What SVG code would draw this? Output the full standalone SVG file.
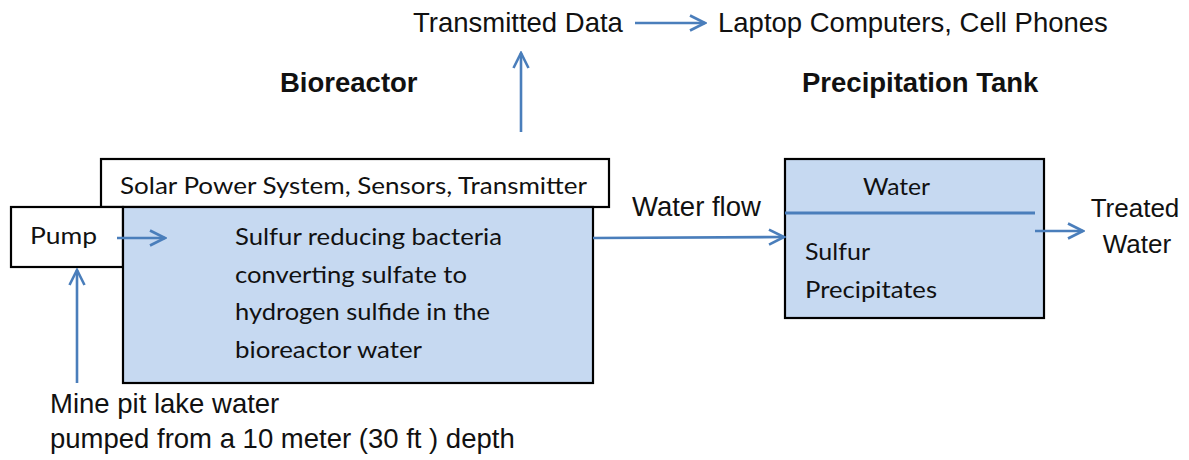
<svg xmlns="http://www.w3.org/2000/svg" width="1189" height="460" viewBox="0 0 1189 460">
<style>
.arial{font-family:"Liberation Sans",Arial,sans-serif;font-size:27.5px;fill:#111}
.bold{font-weight:bold}
.cal{font-family:Lato,"Noto Sans",sans-serif;font-size:24px;fill:#111}
.box{stroke:#000;stroke-width:2.2}
.white{fill:#fff}
.blue{fill:#c6d9f1}
.conn{stroke:#4a7ebb;stroke-width:2.6;fill:none}
</style>
<defs>
<marker id="arr" viewBox="0 0 18 18" refX="16" refY="9" markerWidth="18" markerHeight="18" markerUnits="userSpaceOnUse" orient="auto">
<path d="M1,1.5 L16,9 L1,16.5" fill="none" stroke="#4a7ebb" stroke-width="2.6"/>
</marker>
</defs>
<rect width="1189" height="460" fill="#fff"/>
<g id="titles">
<text class="arial bold" x="280" y="92">Bioreactor</text>
<text class="arial bold" x="802" y="92">Precipitation Tank</text>
</g>
<g id="transmitted-data"><text class="arial" x="413" y="32">Transmitted Data</text></g>
<g id="devices"><text class="arial" x="718" y="32">Laptop Computers, Cell Phones</text></g>
<g id="solar">
<rect class="box white" x="101" y="159" width="508" height="48"/>
<text class="cal" x="120" y="194" textLength="467" lengthAdjust="spacingAndGlyphs">Solar Power System, Sensors, Transmitter</text>
</g>
<g id="pump">
<rect class="box white" x="11" y="207" width="112" height="60"/>
<text class="cal" x="30" y="244" textLength="67" lengthAdjust="spacingAndGlyphs">Pump</text>
</g>
<g id="bioreactor">
<rect class="box blue" x="123" y="207" width="470" height="176"/>
<text class="cal" x="235" y="245" textLength="267" lengthAdjust="spacingAndGlyphs">Sulfur reducing bacteria</text>
<text class="cal" x="235" y="283" textLength="232" lengthAdjust="spacingAndGlyphs">converting sulfate to</text>
<text class="cal" x="235" y="320" textLength="255" lengthAdjust="spacingAndGlyphs">hydrogen sulfide in the</text>
<text class="cal" x="235" y="358" textLength="187" lengthAdjust="spacingAndGlyphs">bioreactor water</text>
</g>
<g id="precipitation-tank">
<rect class="box blue" x="785" y="159" width="259" height="159"/>
<line x1="785" y1="213" x2="1035" y2="213" stroke="#4a7ebb" stroke-width="3"/>
<text class="cal" x="863" y="195" textLength="67" lengthAdjust="spacingAndGlyphs">Water</text>
<text class="cal" x="805" y="260" textLength="65" lengthAdjust="spacingAndGlyphs">Sulfur</text>
<text class="cal" x="805" y="298" textLength="132" lengthAdjust="spacingAndGlyphs">Precipitates</text>
</g>
<g id="treated-water">
<text class="arial" x="1135" y="217" text-anchor="middle" style="font-size:26px">Treated</text>
<text class="arial" x="1137" y="253" text-anchor="middle" style="font-size:26px">Water</text>
</g>
<g id="source">
<text class="arial" x="50" y="413">Mine pit lake water</text>
<text class="arial" x="50" y="448">pumped from a 10 meter (30 ft ) depth</text>
</g>
<g id="water-flow-label"><text class="arial" x="632" y="216">Water flow</text></g>
<g id="connectors">
<line class="conn" x1="521" y1="132" x2="521" y2="53" marker-end="url(#arr)"/>
<line class="conn" x1="635" y1="23" x2="705" y2="23" marker-end="url(#arr)"/>
<line class="conn" x1="117" y1="238" x2="165" y2="238" marker-end="url(#arr)"/>
<line class="conn" x1="77" y1="383" x2="77" y2="270" marker-end="url(#arr)"/>
<line class="conn" x1="593" y1="238" x2="784" y2="237" marker-end="url(#arr)"/>
<line class="conn" x1="1035" y1="231" x2="1083" y2="231" marker-end="url(#arr)"/>
</g>
</svg>
